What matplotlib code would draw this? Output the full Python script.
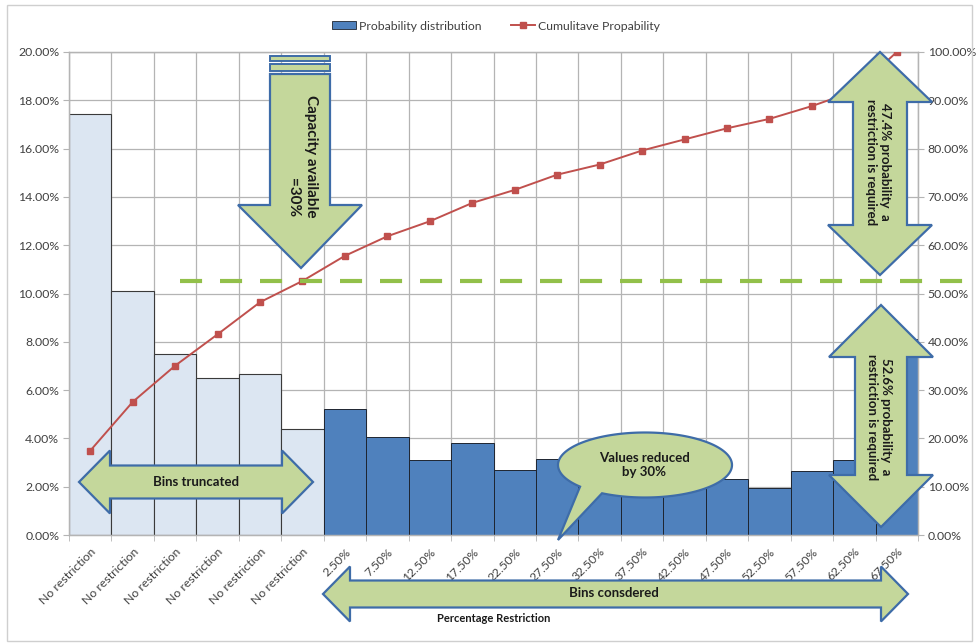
import numpy as np
import matplotlib
matplotlib.use("Agg")
import matplotlib.pyplot as plt
from matplotlib.patches import Polygon, Rectangle, Patch
from matplotlib.lines import Line2D

plt.rcParams["font.family"] = ["Lato", "DejaVu Sans"]

# Bins: six unrestricted ones, then the restriction bins
categories = ["No restriction"] * 6 + [
    "2.50%", "7.50%", "12.50%", "17.50%", "22.50%", "27.50%", "32.50%",
    "37.50%", "42.50%", "47.50%", "52.50%", "57.50%", "62.50%", "67.50%",
]
truncated = [17.45, 10.1, 7.5, 6.5, 6.65, 4.4]
considered = [5.2, 4.05, 3.1, 3.8, 2.7, 3.15, 2.1, 2.9, 2.3, 2.3, 1.95, 2.65, 3.1, 8.1]
threshold = 52.6  # cumulative probability where restriction kicks in

W, H = 976, 643
grid_c = "#B4B4B4"
txt_c = "#404040"
fill_c = "#C4D79B"
edge_c = "#3E6CA8"

fig = plt.figure(figsize=(W / 100, H / 100), dpi=100)
ax = fig.add_axes([69 / W, 1 - 535 / H, 849 / W, 483 / H])

x = np.arange(len(categories))
ax.bar(x[:6], truncated, width=1.0, color="#DCE6F2", edgecolor="#3A3A3A", lw=0.8, zorder=2)
ax.bar(x[6:], considered, width=1.0, color="#4F81BD", edgecolor="#1E2530", lw=0.7, zorder=2)

ax.set_xlim(-0.5, len(categories) - 0.5)
ax.set_ylim(0, 20)
ax.set_yticks(np.arange(0, 21, 2))
ax.yaxis.set_major_formatter(lambda v, p: f"{v:.2f}%")
ax.set_xticks(x)
ax.set_xticklabels(categories, rotation=45, ha="right", va="top", rotation_mode="anchor")
ax.set_xticks(np.arange(-0.5, len(categories), 1), minor=True)
ax.grid(True, which="minor", axis="x", color=grid_c, lw=0.9)
ax.grid(True, which="major", axis="y", color=grid_c, lw=0.9)
ax.set_axisbelow(True)
ax.tick_params(axis="x", which="major", length=0, pad=8, labelsize=8.8, labelcolor=txt_c)
ax.tick_params(axis="x", which="minor", length=4, color=grid_c)
ax.tick_params(axis="y", length=4, color=grid_c, labelsize=8.8, labelcolor=txt_c, pad=3)

ax2 = ax.twinx()
cum = np.cumsum(truncated + considered)
ax2.plot(x, cum, color="#C0504D", lw=1.4, marker="s", ms=4, zorder=3)
ax2.set_ylim(0, 100)
ax2.set_yticks(np.arange(0, 101, 10))
ax2.yaxis.set_major_formatter(lambda v, p: f"{v:.2f}%")
ax2.tick_params(axis="y", length=4, color=grid_c, labelsize=8.8, labelcolor=txt_c, pad=3)
ax2.axhline(threshold, xmin=(180 - 69) / 849, xmax=(976 - 69) / 849, clip_on=False,
            color="#92C04A", lw=3, ls=(0, (5.3, 4.3)), zorder=4)

for a in (ax, ax2):
    for s in a.spines.values():
        s.set_color(grid_c)
        s.set_linewidth(0.9)

# legend across the top
handles = [
    Patch(facecolor="#4F81BD", edgecolor="#1E2530", lw=0.6),
    Line2D([], [], color="#C0504D", lw=1.4, marker="s", ms=4),
]
fig.legend(handles, ["Probability distribution", "Cumulitave Propability"],
           loc="center", bbox_to_anchor=(0.508, 1 - 26 / H), ncol=2, frameon=False,
           fontsize=8.8, handlelength=2.0, handleheight=0.6, columnspacing=2.4,
           labelcolor=txt_c, handletextpad=0.2)

# annotation layer in pixel coordinates
ov = fig.add_axes([0, 0, 1, 1], zorder=10)
ov.set_xlim(0, W)
ov.set_ylim(H, 0)
ov.axis("off")

ov.add_patch(Rectangle((7, 5), 965, 636, fill=False, ec="#CFCFCF", lw=1))


def shape(pts):
    ov.add_patch(Polygon(pts, closed=True, fc=fill_c, ec=edge_c, lw=1.6, joinstyle="miter"))


def vdouble(cx, top, bot, head_w, shaft_w, head_h):
    hw, sw = head_w / 2, shaft_w / 2
    shape([(cx, top), (cx + hw, top + head_h), (cx + sw, top + head_h),
           (cx + sw, bot - head_h), (cx + hw, bot - head_h), (cx, bot),
           (cx - hw, bot - head_h), (cx - sw, bot - head_h), (cx - sw, top + head_h),
           (cx - hw, top + head_h)])


def hdouble(cy, left, right, head_h, shaft_h, head_w):
    hh, sh = head_h / 2, shaft_h / 2
    shape([(left, cy), (left + head_w, cy - hh), (left + head_w, cy - sh),
           (right - head_w, cy - sh), (right - head_w, cy - hh), (right, cy),
           (right - head_w, cy + hh), (right - head_w, cy + sh), (left + head_w, cy + sh),
           (left + head_w, cy + hh)])


# striped down arrow: capacity available
ov.add_patch(Rectangle((270, 56), 60, 4.5, fc=fill_c, ec=edge_c, lw=1.4))
ov.add_patch(Rectangle((270, 63.5), 60, 7.5, fc=fill_c, ec=edge_c, lw=1.4))
shape([(270, 74), (330, 74), (330, 205), (362, 205), (301, 268), (238, 205), (270, 205)])
ov.text(302, 156, "Capacity available\n=30%", rotation=-90, ha="center", va="center",
        multialignment="right", fontsize=11, fontweight="bold", color="#1A1A1A",
        linespacing=1.35)

# right-hand double arrows
vdouble(880, 52, 275, 104, 54, 50)
ov.text(878, 162, "47.4% probability  a\nrestriction is required", rotation=-90,
        ha="center", va="center", fontsize=9.5, fontweight="bold", color="#1A1A1A",
        linespacing=1.2)
vdouble(881, 305, 527, 104, 52, 52)
ov.text(879, 417, "52.6% probability  a\nrestriction is required", rotation=-90,
        ha="center", va="center", fontsize=9.5, fontweight="bold", color="#1A1A1A",
        linespacing=1.2)

# horizontal double arrows
hdouble(482, 79, 313, 63, 33, 31)
ov.text(196, 482, "Bins truncated", ha="center", va="center", fontsize=9.5,
        fontweight="bold", color="#1A1A1A")
hdouble(594, 323, 908, 55, 27, 27)
ov.text(614, 593, "Bins consdered", ha="center", va="center", fontsize=9.5,
        fontweight="bold", color="#1A1A1A")

ov.text(494, 619, "Percentage Restriction", ha="center", va="center", fontsize=8,
        fontweight="bold", color="#1A1A1A")

# speech bubble
cx, cy, ea, eb = 645, 465, 87, 32.5
t = np.radians(np.linspace(138.3, 479.6, 200))
bubble = list(zip(cx + ea * np.cos(t), cy + eb * np.sin(t))) + [(558, 540)]
shape(bubble)
ov.text(644, 465, "Values reduced\nby 30%", ha="center", va="center", fontsize=9.5,
        fontweight="bold", color="#1A1A1A", linespacing=1.2)

fig.savefig("out.png", dpi=100)
